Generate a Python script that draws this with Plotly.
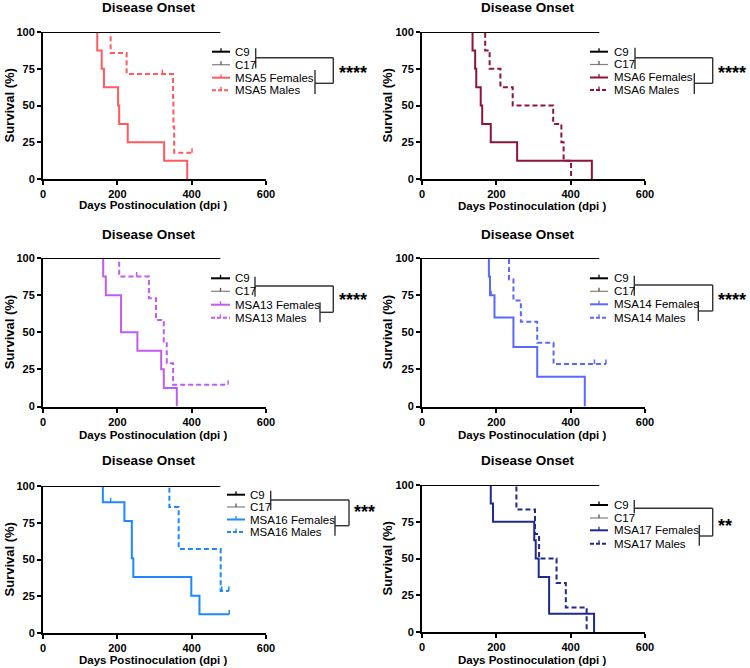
import plotly.graph_objects as go

# ---------------- data ----------------
X_TICKS = [0, 200, 400, 600]
Y_TICKS = [0, 25, 50, 75, 100]

C9_END = 477
C9_CENSOR = [233, 290, 358, 418, 475]
C17_END = 470
C17_CENSOR = [285, 389, 449]

GROUPS = ["MSA5", "MSA6", "MSA13", "MSA14", "MSA16", "MSA17"]
SIGNIF = ["****", "****", "****", "****", "***", "**"]

MSA5_F_T = [0, 146, 158, 164, 202, 205, 228, 326, 388]
MSA5_F_S = [100, 87.5, 75, 62.5, 50, 37.5, 25, 12.5, 0]
MSA5_F_CT = []
MSA5_F_CS = []
MSA5_M_T = [0, 182, 225, 350, 351, 353, 401]
MSA5_M_S = [100, 85.7, 71.4, 53.6, 35.7, 17.9, 17.9]
MSA5_M_CT = [321, 401]
MSA5_M_CS = [71.4, 17.9]

MSA6_F_T = [0, 136, 143, 146, 158, 162, 185, 256, 457]
MSA6_F_S = [100, 87.5, 75, 62.5, 50, 37.5, 25, 12.5, 0]
MSA6_F_CT = []
MSA6_F_CS = []
MSA6_M_T = [0, 170, 182, 211, 244, 353, 375, 381, 401]
MSA6_M_S = [100, 87.5, 75, 62.5, 50, 37.5, 25, 12.5, 0]
MSA6_M_CT = []
MSA6_M_CS = []

MSA13_F_T = [0, 162, 169, 210, 254, 318, 325, 360]
MSA13_F_S = [100, 87.5, 75, 50, 37.5, 25, 12.5, 0]
MSA13_F_CT = []
MSA13_F_CS = []
MSA13_M_T = [0, 205, 285, 304, 325, 333, 350, 498]
MSA13_M_S = [100, 87.5, 72.9, 58.3, 43.75, 29.2, 14.6, 14.6]
MSA13_M_CT = [252, 498]
MSA13_M_CS = [87.5, 14.6]

MSA14_F_T = [0, 180, 183, 195, 246, 310, 438]
MSA14_F_S = [100, 87.5, 75, 60, 40, 20, 0]
MSA14_F_CT = [74, 186]
MSA14_F_CS = [100, 75]
MSA14_M_T = [0, 234, 246, 266, 310, 354, 495]
MSA14_M_S = [100, 85.7, 71.4, 57.1, 42.9, 28.6, 28.6]
MSA14_M_CT = [464, 495]
MSA14_M_CS = [28.6, 28.6]

MSA16_F_T = [0, 161, 219, 239, 243, 399, 421, 501]
MSA16_F_S = [100, 88.9, 76.2, 50.8, 38.1, 25.4, 12.7, 12.7]
MSA16_F_CT = [182, 501]
MSA16_F_CS = [88.9, 12.7]
MSA16_M_T = [0, 340, 365, 478, 500]
MSA16_M_S = [100, 85.7, 57.1, 28.6, 28.6]
MSA16_M_CT = [481, 500]
MSA16_M_CS = [28.6, 28.6]

MSA17_F_T = [0, 185, 191, 302, 306, 314, 342, 463]
MSA17_F_S = [100, 87.5, 75, 62.5, 50, 37.5, 12.5, 0]
MSA17_F_CT = []
MSA17_F_CS = []
MSA17_M_T = [0, 254, 304, 315, 362, 387, 443]
MSA17_M_S = [100, 83.3, 66.7, 50, 33.3, 16.7, 0]
MSA17_M_CT = [81, 117]
MSA17_M_CS = [100, 100]

FEMALES = [
    (MSA5_F_T, MSA5_F_S, MSA5_F_CT, MSA5_F_CS),
    (MSA6_F_T, MSA6_F_S, MSA6_F_CT, MSA6_F_CS),
    (MSA13_F_T, MSA13_F_S, MSA13_F_CT, MSA13_F_CS),
    (MSA14_F_T, MSA14_F_S, MSA14_F_CT, MSA14_F_CS),
    (MSA16_F_T, MSA16_F_S, MSA16_F_CT, MSA16_F_CS),
    (MSA17_F_T, MSA17_F_S, MSA17_F_CT, MSA17_F_CS),
]
MALES = [
    (MSA5_M_T, MSA5_M_S, MSA5_M_CT, MSA5_M_CS),
    (MSA6_M_T, MSA6_M_S, MSA6_M_CT, MSA6_M_CS),
    (MSA13_M_T, MSA13_M_S, MSA13_M_CT, MSA13_M_CS),
    (MSA14_M_T, MSA14_M_S, MSA14_M_CT, MSA14_M_CS),
    (MSA16_M_T, MSA16_M_S, MSA16_M_CT, MSA16_M_CS),
    (MSA17_M_T, MSA17_M_S, MSA17_M_CT, MSA17_M_CS),
]

# ---------------- styling / layout ----------------
W, H = 750, 668
FONT = "Arial, Liberation Sans, sans-serif"
COLORS = ["#FF5A5F", "#8C1538", "#C15BF2", "#5968FF", "#1E88FF", "#1F2A8C"]
DASH = "5px,3px"
TICK_UP = 3.0  # censor tick height (survival units)

# plot boxes in pixels: x0, x1, ytop, ybottom
BOX = [(43, 266, 32, 179), (422, 645, 32, 179),
       (43, 266, 258, 406.5), (422, 645, 258, 406.5),
       (43, 266, 486, 633), (422, 645, 485, 632)]
TITLE_POS = [(149, 8), (528, 8), (149, 234), (528, 234), (149, 460), (528, 460)]
XTITLE_POS = [(153, 205), (532, 206), (153, 435), (532, 435), (153, 660), (532, 660)]
YTITLE_X = [9, 387, 9, 387, 9, 387]
# legend: line x0, line x1, text x, row ys
LEG = [(212, 230, 233, [51.7, 64.7, 77.7, 90.3]),
       (590, 608, 612, [51.7, 64.5, 77.5, 90]),
       (211, 230, 233, [278.3, 291.3, 304.7, 317.7]),
       (590, 608, 612, [278.3, 291.3, 304.3, 317.7]),
       (227, 245, 247.5, [494.7, 507, 519.5, 532]),
       (590, 608, 612, [505, 518, 530.3, 543.7])]
# bracket: v1x, v1y0, v1y1, h1y, rx, h2y, v2x, v2y0, v2y1, starx, stary
BRK = [(255.7, 48.3, 68.3, 57.7, 333.3, 83.3, 315, 70, 94, 336.5, 73),
       (635, 47.7, 69, 57.7, 712.7, 83.3, 694.3, 73.3, 94, 715.5, 73),
       (255, 276.7, 296.7, 286, 333.3, 312.3, 320, 302.3, 322.3, 337, 300),
       (634.3, 275.7, 295.7, 285, 712.7, 311, 698.3, 301, 321, 715.5, 300),
       (270.7, 490.7, 510, 500, 349, 525.7, 335, 515.7, 535.7, 352, 512),
       (634.3, 500, 513.3, 508.3, 712.7, 536, 699.3, 525, 545.7, 715.5, 526)]


def px(x):
    return x / W


def py(y):
    return 1 - y / H


def tick_segments(ts, ss):
    xs, ys = [], []
    for t, s in zip(ts, ss):
        xs += [t, t, None]
        ys += [s, s + TICK_UP, None]
    return xs, ys


fig = go.Figure()
shapes = []
annotations = []
layout_axes = {}

for i in range(6):
    xk = "x" if i == 0 else f"x{i+1}"
    yk = "y" if i == 0 else f"y{i+1}"
    x0, x1, yt, yb = BOX[i]
    axis_common = dict(showline=True, linewidth=2, linecolor="black", ticks="outside",
                       ticklen=4, tickwidth=1.5, tickcolor="black", showgrid=False,
                       zeroline=False, fixedrange=True, automargin=False,
                       tickfont=dict(family=FONT, size=11, color="black", weight="bold"))
    layout_axes["xaxis" if i == 0 else f"xaxis{i+1}"] = dict(
        domain=[px(x0), px(x1)], anchor=yk, range=[0, 600], tickvals=X_TICKS, **axis_common)
    layout_axes["yaxis" if i == 0 else f"yaxis{i+1}"] = dict(
        domain=[py(yb), py(yt)], anchor=xk, range=[0, 100], tickvals=Y_TICKS, **axis_common)

    col = COLORS[i]
    # female (solid) and male (dashed) step curves
    for (t, s, ct, cs), dash in ((FEMALES[i], "solid"), (MALES[i], DASH)):
        fig.add_trace(go.Scatter(x=t, y=s, mode="lines", line=dict(color=col, width=2, dash=dash, shape="hv"),
                                 xaxis=xk, yaxis=yk, showlegend=False, cliponaxis=False, hoverinfo="skip"))
        if ct:
            cx, cy = tick_segments(ct, cs)
            fig.add_trace(go.Scatter(x=cx, y=cy, mode="lines", line=dict(color=col, width=1.5),
                                     xaxis=xk, yaxis=yk, showlegend=False, cliponaxis=False, hoverinfo="skip"))
    # controls C17 (gray) and C9 (black)
    fig.add_trace(go.Scatter(x=[0, C17_END], y=[100, 100], mode="lines", line=dict(color="#808080", width=1.2),
                             xaxis=xk, yaxis=yk, showlegend=False, cliponaxis=False, hoverinfo="skip"))
    cx, cy = tick_segments(C17_CENSOR, [100] * len(C17_CENSOR))
    fig.add_trace(go.Scatter(x=cx, y=cy, mode="lines", line=dict(color="#222222", width=1.2),
                             xaxis=xk, yaxis=yk, showlegend=False, cliponaxis=False, hoverinfo="skip"))
    fig.add_trace(go.Scatter(x=[0, C9_END], y=[100, 100], mode="lines", line=dict(color="black", width=2),
                             xaxis=xk, yaxis=yk, showlegend=False, cliponaxis=False, hoverinfo="skip"))
    cx, cy = tick_segments(C9_CENSOR, [100] * len(C9_CENSOR))
    fig.add_trace(go.Scatter(x=cx, y=cy, mode="lines", line=dict(color="black", width=1.5),
                             xaxis=xk, yaxis=yk, showlegend=False, cliponaxis=False, hoverinfo="skip"))

    # titles
    tx, ty = TITLE_POS[i]
    annotations.append(dict(text="Disease Onset", x=px(tx), y=py(ty), xref="paper", yref="paper",
                            xanchor="center", yanchor="middle", showarrow=False,
                            font=dict(family=FONT, size=13.5, color="black", weight="bold")))
    ax_, ay_ = XTITLE_POS[i]
    annotations.append(dict(text="Days Postinoculation (dpi )", x=px(ax_), y=py(ay_), xref="paper", yref="paper",
                            xanchor="center", yanchor="middle", showarrow=False,
                            font=dict(family=FONT, size=11.5, color="black", weight="bold")))
    annotations.append(dict(text="Survival (%)", x=px(YTITLE_X[i]), y=py((yt + yb) / 2), xref="paper",
                            yref="paper", xanchor="center", yanchor="middle", textangle=-90, showarrow=False,
                            font=dict(family=FONT, size=13, color="black", weight="bold")))

    # legend (drawn)
    lx0, lx1, ltx, rows = LEG[i]
    labels = ["C9", "C17", f"{GROUPS[i]} Females", f"{GROUPS[i]} Males"]
    lcols = ["black", "#808080", col, col]
    lwid = [2, 1.2, 2, 2]
    ldash = ["solid", "solid", "solid", "4px,2px"]
    for lab, ry, lc, lw, ld in zip(labels, rows, lcols, lwid, ldash):
        shapes.append(dict(type="line", xref="paper", yref="paper", x0=px(lx0), x1=px(lx1), y0=py(ry), y1=py(ry),
                           line=dict(color=lc, width=lw, dash=ld)))
        mid = (lx0 + lx1) / 2
        shapes.append(dict(type="line", xref="paper", yref="paper", x0=px(mid), x1=px(mid), y0=py(ry),
                           y1=py(ry - 3.5), line=dict(color=lc if lc != "#808080" else "#555555", width=1.3)))
        annotations.append(dict(text=lab, x=px(ltx), y=py(ry), xref="paper", yref="paper", xanchor="left",
                                yanchor="middle", showarrow=False,
                                font=dict(family=FONT, size=11.5, color="black")))

    # significance bracket
    v1x, v1y0, v1y1, h1y, rx, h2y, v2x, v2y0, v2y1, sx, sy = BRK[i]
    segs = [(v1x, v1y0, v1x, v1y1), (v1x, h1y, rx, h1y), (rx, h1y, rx, h2y),
            (v2x, h2y, rx, h2y), (v2x, v2y0, v2x, v2y1)]
    for a, b, c, d in segs:
        shapes.append(dict(type="line", xref="paper", yref="paper", x0=px(a), y0=py(b), x1=px(c), y1=py(d),
                           line=dict(color="#333333", width=1.4)))
    annotations.append(dict(text=SIGNIF[i], x=px(sx), y=py(sy), xref="paper", yref="paper", xanchor="left",
                            yanchor="middle", showarrow=False,
                            font=dict(family=FONT, size=18, color="black", weight="bold")))

fig.update_layout(width=W, height=H, margin=dict(l=0, r=0, t=0, b=0), template="none",
                  paper_bgcolor="white", plot_bgcolor="white", showlegend=False,
                  shapes=shapes, annotations=annotations, **layout_axes)

fig.write_html("out.html", config={"displayModeBar": False},
               post_script="document.body.style.margin='0';document.body.style.overflow='hidden';")
